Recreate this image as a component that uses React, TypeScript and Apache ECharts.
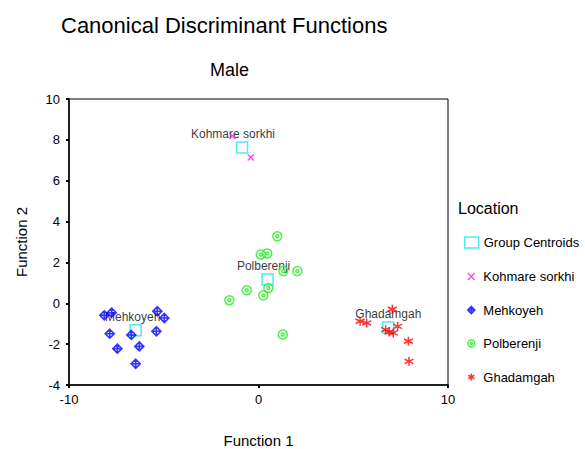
import React, { useEffect, useRef } from "react";
import * as echarts from "echarts";

// ---- data ----
const groupNames = ["Kohmare sorkhi", "Mehkoyeh", "Polberenji", "Ghadamgah"];
const centroidX = [-0.87, -6.48, 0.48, 6.85];
const centroidY = [7.63, -1.32, 1.16, -1.19];

const kohmareX = [-1.38, -0.41];
const kohmareY = [8.19, 7.14];

const mehkoyehX = [-8.14, -7.75, -7.85, -6.71, -7.45, -6.29, -6.48, -5.34, -4.97, -5.39];
const mehkoyehY = [-0.59, -0.46, -1.49, -1.55, -2.22, -2.11, -2.96, -0.39, -0.72, -1.37];

const polberenjiX = [0.99, 0.12, 0.46, 1.31, 2.05, 0.52, -0.62, 0.25, -1.54, 1.28];
const polberenjiY = [3.28, 2.39, 2.44, 1.58, 1.58, 0.75, 0.64, 0.39, 0.15, -1.53];

const ghadamgahX = [7.06, 5.36, 5.71, 7.34, 6.71, 6.89, 7.11, 7.91, 7.94];
const ghadamgahY = [-0.29, -0.88, -0.96, -1.13, -1.29, -1.41, -1.45, -1.86, -2.84];

const legendNames = ["Group Centroids", "Kohmare sorkhi", "Mehkoyeh", "Polberenji", "Ghadamgah"];

// ---- styles ----
const FONT = "'Liberation Sans', Arial, sans-serif";
const colors = {
  centroid: "#22e4f2",
  kohmare: "#ee22ee",
  mehkoyeh: "#0000ff",
  polberenji: "#22ee22",
  ghadamgah: "#ff0000",
};
const symX = "path://M0,0L10,10M10,0L0,10";
const symDiamondCross = "path://M5,0L10,5L5,10L0,5ZM5,0L5,10M0,5L10,5";
const symRing =
  "path://M0,5A5,5 0 1,0 10,5A5,5 0 1,0 0,5ZM3.4,5A1.6,1.6 0 1,0 6.6,5A1.6,1.6 0 1,0 3.4,5Z";
const symStar = "path://M5,0L5,10M0.7,2.5L9.3,7.5M0.7,7.5L9.3,2.5";
const labelOffsets = [[-9, 0], [-3, 0], [-4, 0], [0, 0]];

const zip = (xs: number[], ys: number[]) => xs.map((x, i) => [x, ys[i]]);

export default function App() {
  const ref = useRef<HTMLDivElement>(null);
  useEffect(() => {
    if (!ref.current) return;
    const chart = echarts.init(ref.current, null, { renderer: "svg" });
    const stroke = (c: string, w = 1.4) => ({ color: "rgba(0,0,0,0)", borderColor: c, borderWidth: w });
    const legendText = { fontSize: 13, color: "#000", fontFamily: FONT };
    const axisCommon = {
      axisLine: { onZero: false, lineStyle: { color: "#000", width: 1.5 } },
      axisTick: { show: true, length: 3, lineStyle: { color: "#000", width: 2 } },
      splitLine: { show: false },
    };
    chart.setOption({
      animation: false,
      backgroundColor: "#fff",
      textStyle: { fontFamily: FONT },
      title: [
        {
          text: "Canonical Discriminant Functions",
          left: 61,
          top: 14,
          padding: 0,
          textStyle: { fontSize: 22, fontWeight: "normal", color: "#000", fontFamily: FONT },
        },
        {
          text: "Male",
          left: 210,
          top: 61,
          padding: 0,
          textStyle: { fontSize: 18, fontWeight: "normal", color: "#000", fontFamily: FONT },
        },
      ],
      graphic: [
        {
          type: "text",
          left: 458,
          top: 200,
          style: { text: "Location", fontSize: 16, fill: "#000", fontFamily: FONT },
        },
      ],
      grid: {
        left: 69,
        right: 137,
        top: 99,
        bottom: 64,
        outerBoundsMode: "none",
        containLabel: false,
        show: true,
        borderColor: "#000",
        borderWidth: 1,
        backgroundColor: "#fff",
      },
      xAxis: {
        type: "value",
        min: -10,
        max: 10,
        interval: 10,
        name: "Function 1",
        nameLocation: "middle",
        nameGap: 48,
        nameTextStyle: { fontSize: 15, color: "#000", fontFamily: FONT },
        axisLabel: { fontSize: 13, color: "#000", margin: 8, fontFamily: FONT },
        ...axisCommon,
      },
      yAxis: {
        type: "value",
        min: -4,
        max: 10,
        interval: 2,
        name: "Function 2",
        nameLocation: "middle",
        nameGap: 40,
        nameTextStyle: { fontSize: 15, color: "#000", fontFamily: FONT },
        axisLabel: { fontSize: 13, color: "#000", margin: 9, fontFamily: FONT },
        ...axisCommon,
      },
      legend: [
        {
          orient: "vertical",
          left: 464,
          top: 236,
          itemWidth: 14,
          itemHeight: 11,
          padding: 0,
          textStyle: legendText,
          data: [{ name: legendNames[0], icon: "rect", itemStyle: stroke(colors.centroid, 1.5) }],
        },
        {
          orient: "vertical",
          left: 467,
          top: 270,
          itemWidth: 14,
          itemHeight: 7,
          itemGap: 20.5,
          padding: 0,
          textStyle: legendText,
          data: [
            { name: legendNames[1], icon: symX, itemStyle: stroke(colors.kohmare, 1.4) },
            { name: legendNames[2], icon: symDiamondCross, itemStyle: stroke(colors.mehkoyeh, 1.6) },
            { name: legendNames[3], icon: symRing, itemStyle: stroke(colors.polberenji, 1.5) },
            { name: legendNames[4], icon: symStar, itemStyle: stroke(colors.ghadamgah, 1.5) },
          ],
        },
      ],
      series: [
        {
          name: legendNames[1],
          type: "scatter",
          symbol: symX,
          symbolSize: 6,
          itemStyle: stroke(colors.kohmare, 1.4),
          data: zip(kohmareX, kohmareY),
          z: 3,
        },
        {
          name: legendNames[2],
          type: "scatter",
          symbol: symDiamondCross,
          symbolSize: 9,
          itemStyle: stroke(colors.mehkoyeh, 1.6),
          data: zip(mehkoyehX, mehkoyehY),
          z: 3,
        },
        {
          name: legendNames[3],
          type: "scatter",
          symbol: symRing,
          symbolSize: 9,
          itemStyle: stroke(colors.polberenji, 1.5),
          data: zip(polberenjiX, polberenjiY),
          z: 3,
        },
        {
          name: legendNames[4],
          type: "scatter",
          symbol: symStar,
          symbolSize: 9,
          itemStyle: stroke(colors.ghadamgah, 1.5),
          data: zip(ghadamgahX, ghadamgahY),
          z: 3,
        },
        {
          name: legendNames[0],
          type: "scatter",
          symbol: "rect",
          symbolSize: 11,
          itemStyle: stroke(colors.centroid, 1.5),
          z: 2,
          data: centroidX.map((x, i) => ({
            value: [x, centroidY[i]],
            label: { offset: labelOffsets[i] },
          })),
          label: {
            show: true,
            position: "top",
            distance: 1,
            formatter: (p: any) => groupNames[p.dataIndex],
            fontSize: 12,
            color: "#000",
            fontFamily: FONT,
          },
        },
      ],
    });
    return () => chart.dispose();
  }, []);
  return (
    <div
      ref={ref}
      style={{ position: "fixed", left: 0, top: 0, width: 585, height: 449, background: "#fff" }}
    />
  );
}
